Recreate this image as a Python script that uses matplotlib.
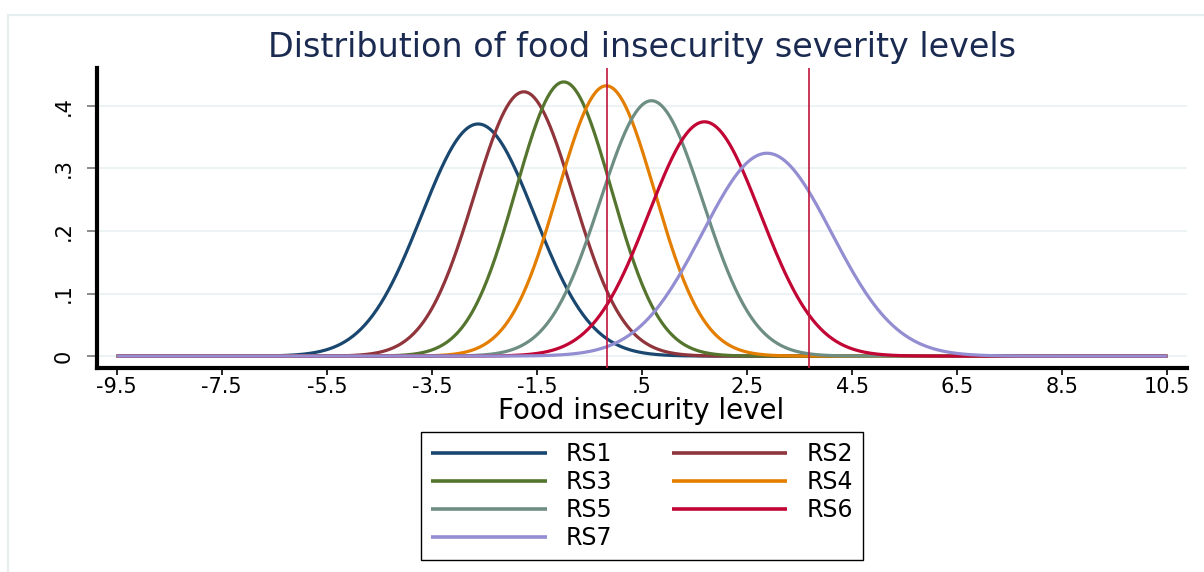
import numpy as np
import matplotlib
matplotlib.use("Agg")
import matplotlib.pyplot as plt
from matplotlib.patches import Rectangle

# severity groups (mean, sd)
levels = ['RS1', 'RS2', 'RS3', 'RS4', 'RS5', 'RS6', 'RS7']
means = [-2.62, -1.75, -0.99, -0.18, 0.68, 1.69, 2.88]
sds = [1.076, 0.945, 0.911, 0.924, 0.978, 1.066, 1.231]
colors = ['#1a476f', '#90353b', '#55752f', '#e37e00', '#6e8e84', '#c10534', '#938dd2']

thresholds = [-0.17, 3.675]

xticks = [-9.5, -7.5, -5.5, -3.5, -1.5, 0.5, 2.5, 4.5, 6.5, 8.5, 10.5]
xtick_labels = ['-9.5', '-7.5', '-5.5', '-3.5', '-1.5', '.5', '2.5', '4.5', '6.5', '8.5', '10.5']
yticks = [0, 0.1, 0.2, 0.3, 0.4]
ytick_labels = ['0', '.1', '.2', '.3', '.4']

plt.rcParams['font.family'] = ['DejaVu Sans']

fig = plt.figure(figsize=(12.04, 5.72), dpi=100)

# faint outer region frame
fig.patches.append(Rectangle((8 / 1204, -0.05), 1.2, 1 - 15 / 572 + 0.05,
                             transform=fig.transFigure, fill=False,
                             edgecolor='#e6eef0', lw=1.6))

ax = fig.add_axes([97 / 1204, 1 - 368 / 572, (1187 - 97) / 1204, 300 / 572])

x = np.linspace(-9.5, 10.5, 801)
handles = []
for name, m, s, c in zip(levels, means, sds, colors):
    dens = np.exp(-0.5 * ((x - m) / s) ** 2) / (s * np.sqrt(2 * np.pi))
    h, = ax.plot(x, dens, color=c, lw=2.3, label=name, solid_capstyle='butt')
    handles.append(h)

for t in thresholds:
    ax.axvline(t, color='#c0143c', lw=1.2, zorder=5)

ax.set_xlim(-9.875, 10.875)
ax.set_ylim(-0.019, 0.4602)
ax.set_xticks(xticks)
ax.set_xticklabels(xtick_labels, fontsize=15)
ax.set_yticks(yticks)
ax.set_yticklabels(ytick_labels, fontsize=15, rotation=90, va='center')
ax.tick_params(axis='x', length=5, width=1.2, color='black', pad=1.5)
ax.tick_params(axis='y', length=7, width=1.2, color='#777777', pad=10)

ax.grid(axis='y', color='#eaf2f3', lw=1.3)
ax.set_axisbelow(True)
for side in ['top', 'right']:
    ax.spines[side].set_visible(False)
for side in ['left', 'bottom']:
    ax.spines[side].set_linewidth(3)

fig.text(642 / 1204, 1 - 48 / 572, 'Distribution of food insecurity severity levels',
         fontsize=24, color='#1a2a50', ha='center', va='center')
fig.text(641 / 1204, 1 - 411 / 572, 'Food insecurity level',
         fontsize=20, ha='center', va='center')

order = [0, 2, 4, 6, 1, 3, 5]
leg = fig.legend([handles[i] for i in order], [levels[i] for i in order],
                 ncol=2, loc='center', bbox_to_anchor=(642 / 1204, 1 - 496 / 572),
                 fontsize=17, handlelength=4.9, handletextpad=0.8,
                 columnspacing=2.5, labelspacing=0.17, borderpad=0.42,
                 borderaxespad=0, fancybox=False, edgecolor='black', framealpha=1)
leg.get_frame().set_linewidth(1.0)
for line in leg.get_lines():
    line.set_linewidth(2.6)

fig.savefig('out.png', dpi=100)
